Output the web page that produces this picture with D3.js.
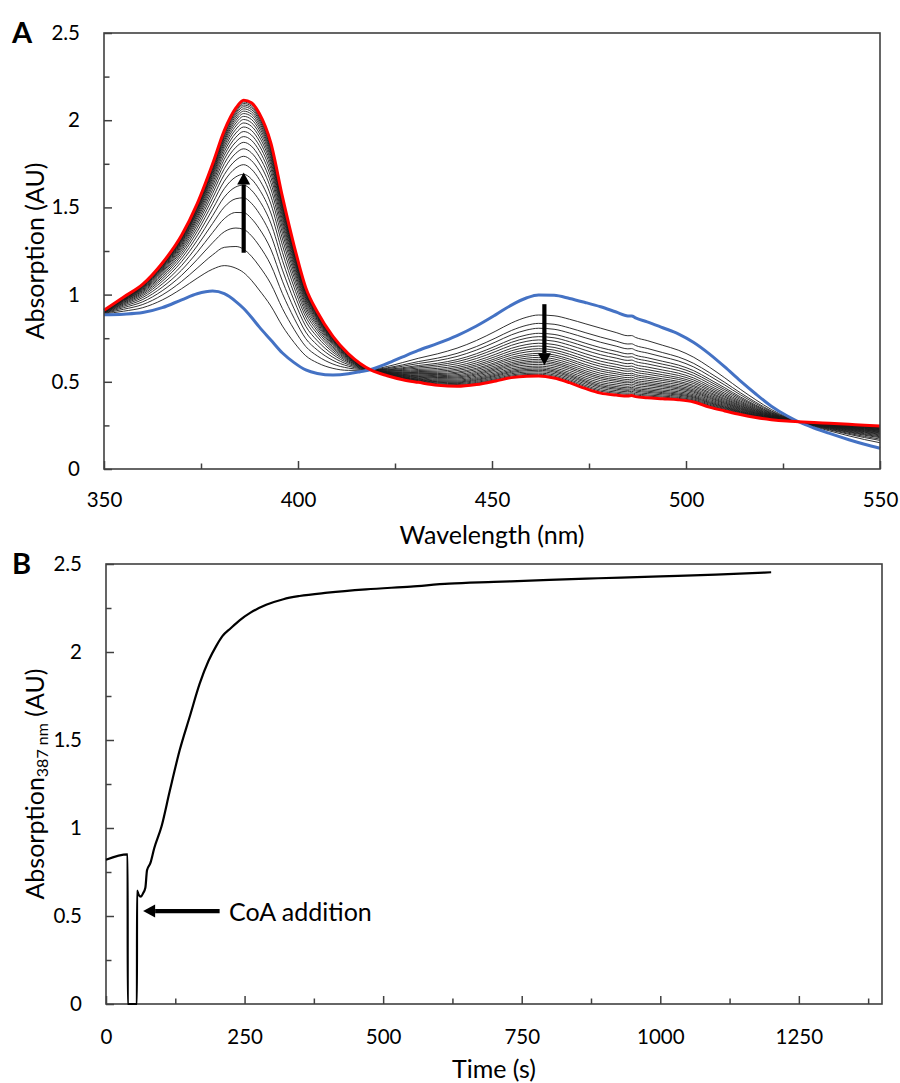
<!DOCTYPE html>
<html>
<head>
<meta charset="utf-8">
<script src="https://cdn.jsdelivr.net/npm/d3@7"></script>
<style>
body { margin: 0; background: #fff; }
text { font-family: Lato, "Open Sans", sans-serif; fill: #000; }
</style>
</head>
<body>
<svg id="chart" width="900" height="1083"></svg>
<script>
// ---- panel A: spectra ----
var wavelengths = [350,355,360,365,370,374,378,381,384,386,388,390,393,396,399,402,405,409,413,416,419,
  423,427,431,436,441,446,451,455,459,462,466,470,474,478,482,485,486,487,490,494,498,502,506,510,514,518,522,526,529,533,537,542,546,550];
// first spectrum (blue)
var startSpectrum = [0.885,0.888,0.897,0.925,0.97,1.005,1.02,1.005,0.96,0.92,0.87,0.815,0.74,0.665,0.61,0.568,0.548,0.539,0.546,0.558,0.572,
  0.605,0.643,0.68,0.72,0.765,0.82,0.885,0.94,0.982,0.998,0.996,0.978,0.955,0.93,0.9,0.878,0.878,0.866,0.844,0.81,0.775,0.725,0.66,0.585,0.505,0.43,0.36,0.305,0.271,0.235,0.204,0.168,0.142,0.119];
// last spectrum (red)
var endSpectrum = [0.91,0.985,1.06,1.18,1.34,1.52,1.75,1.94,2.07,2.115,2.1,2.04,1.87,1.56,1.28,1.04,0.9,0.76,0.66,0.605,0.565,
  0.535,0.512,0.497,0.48,0.474,0.484,0.505,0.524,0.532,0.533,0.522,0.495,0.462,0.435,0.424,0.418,0.421,0.415,0.409,0.403,0.397,0.384,0.355,0.333,0.312,0.295,0.283,0.275,0.271,0.266,0.262,0.256,0.251,0.247];
// intermediate traces: height at the 387 nm band and at the 462 nm band
var band387 = [1.126,1.26,1.374,1.47,1.555,1.628,1.69,1.745,1.793,1.836,1.873,1.906,1.935,1.961,1.984,2.004,2.022,2.038,2.052,2.065,2.077,2.087,2.096,2.104];
var band462 = [0.883,0.835,0.807,0.778,0.759,0.740,0.721,0.705,0.690,0.677,0.663,0.652,0.640,0.629,0.619,0.610,0.600,0.590,0.581,0.573,0.566,0.558,0.550,0.543];
var absTicks = [0,0.5,1,1.5,2,2.5];
var absMinor = [0.25,0.75,1.25,1.75,2.25];
var wlTicks = [350,400,450,500,550];
var wlMinor = [375,425,475,525];

// ---- panel B: kinetics at 387 nm ----
var timeSec = [0,39,39.2,55.8,56,59,63,67,71,74,80,87,100,115,133,151,169,185,199,210,225,241,260,289,320,349,400,469,550,619,700,800,888,1000,1100,1200];
var abs387 = [0.82,0.85,0,0,0.645,0.62,0.61,0.63,0.66,0.76,0.8,0.885,1.007,1.21,1.443,1.632,1.82,1.95,2.035,2.09,2.135,2.18,2.222,2.268,2.3,2.318,2.337,2.356,2.372,2.388,2.398,2.41,2.419,2.43,2.44,2.453];
var timeTicks = [0,250,500,750,1000,1250];
var timeMinor = [125,375,625,875,1125,1375];

var svg = d3.select("#chart");
var frameColor = "#404040";

function drawAxes(g, x, y, xt, xm, yt, ym, xpad) {
  var w = x.range()[1], h = y.range()[0];
  g.append("g").attr("transform", "translate(0," + h + ")")
    .call(d3.axisBottom(x).tickValues(xt).tickSize(-8).tickSizeOuter(0).tickPadding(xpad).tickFormat(d3.format("")))
    .call(s => s.select(".domain").remove());
  g.append("g").attr("transform", "translate(0," + h + ")")
    .call(d3.axisBottom(x).tickValues(xm).tickSize(-5.5).tickSizeOuter(0).tickFormat(""))
    .call(s => s.select(".domain").remove());
  g.append("g")
    .call(d3.axisLeft(y).tickValues(yt).tickSize(-8).tickSizeOuter(0).tickPadding(24).tickFormat(d3.format("")))
    .call(s => s.select(".domain").remove());
  g.append("g")
    .call(d3.axisLeft(y).tickValues(ym).tickSize(-5.5).tickSizeOuter(0).tickFormat(""))
    .call(s => s.select(".domain").remove());
  g.selectAll(".tick line").attr("stroke", frameColor).attr("stroke-width", 1.5);
  g.selectAll(".tick text").attr("font-size", 20.5).attr("font-family", "Lato, sans-serif");
  g.append("rect").attr("x", 0).attr("y", 0).attr("width", w).attr("height", h)
    .attr("fill", "none").attr("stroke", frameColor).attr("stroke-width", 1.6);
}

function arrow(g, x1, y1, x2, y2) {
  var ang = Math.atan2(y2 - y1, x2 - x1), hl = 12, hw = 6.5;
  var bx = x2 - hl * Math.cos(ang), by = y2 - hl * Math.sin(ang);
  g.append("line").attr("x1", x1).attr("y1", y1).attr("x2", bx).attr("y2", by)
    .attr("stroke", "#000").attr("stroke-width", 4.2);
  var px = -Math.sin(ang) * hw, py = Math.cos(ang) * hw;
  g.append("path").attr("d", "M" + x2 + "," + y2 + "L" + (bx + px) + "," + (by + py) + "L" + (bx - px) + "," + (by - py) + "Z")
    .attr("fill", "#000");
}

// ================= Panel A =================
var gA = svg.append("g").attr("transform", "translate(104,33)");
var xA = d3.scaleLinear().domain([350, 550]).range([0, 776]);
var yA = d3.scaleLinear().domain([0, 2.5]).range([436, 0]);

// each grey trace sits between the two end spectra; its position is set by
// the band heights read at 387 nm (left of the 419 nm isosbestic point) and 462 nm (right of it)
var i386 = wavelengths.indexOf(386), i462 = wavelengths.indexOf(462);
var traces = band387.map(function (v, k) {
  var fa = (v - startSpectrum[i386]) / (endSpectrum[i386] - startSpectrum[i386]);
  var fb = (startSpectrum[i462] - band462[k]) / (startSpectrum[i462] - endSpectrum[i462]);
  return wavelengths.map(function (w, j) {
    var f = w < 419 ? fa : fb;
    return [w, startSpectrum[j] + f * (endSpectrum[j] - startSpectrum[j])];
  });
});

var lineA = d3.line().x(d => xA(d[0])).y(d => yA(d[1])).curve(d3.curveMonotoneX);
var plotA = gA.append("g");
plotA.selectAll(".trace").data(traces).enter().append("path")
  .attr("d", lineA).attr("fill", "none").attr("stroke", "#1a1a1a").attr("stroke-width", 0.9);
plotA.append("path").datum(wavelengths.map((w, j) => [w, startSpectrum[j]]))
  .attr("d", lineA).attr("fill", "none").attr("stroke", "#4472C4").attr("stroke-width", 3);
plotA.append("path").datum(wavelengths.map((w, j) => [w, endSpectrum[j]]))
  .attr("d", lineA).attr("fill", "none").attr("stroke", "#FF0000").attr("stroke-width", 3);

drawAxes(gA, xA, yA, wlTicks, wlMinor, absTicks, absMinor, 23);

arrow(gA, xA(386), yA(1.24), xA(386), yA(1.70));
arrow(gA, xA(463.5), yA(0.945), xA(463.5), yA(0.595));

gA.append("text").attr("x", 388).attr("y", 511).attr("text-anchor", "middle")
  .attr("font-size", 25).text("Wavelength (nm)");
gA.append("text").attr("transform", "translate(-70,218) rotate(-90)").attr("text-anchor", "middle")
  .attr("dominant-baseline", "central").attr("font-size", 25).text("Absorption (AU)");
svg.append("text").attr("x", 12).attr("y", 43).attr("font-size", 29).attr("font-weight", "bold").text("A");

// ================= Panel B =================
var gB = svg.append("g").attr("transform", "translate(106,564)");
var xB = d3.scaleLinear().domain([0, 1400]).range([0, 776]);
var yB = d3.scaleLinear().domain([0, 2.5]).range([440, 0]);

drawAxes(gB, xB, yB, timeTicks, timeMinor, absTicks, absMinor, 25);

var lineB = d3.line().x((d, k) => xB(d)).y((d, k) => yB(abs387[k])).curve(d3.curveMonotoneX);
gB.append("path").datum(timeSec).attr("d", lineB)
  .attr("fill", "none").attr("stroke", "#000").attr("stroke-width", 2.2);

arrow(gB, xB(205), yB(0.528), xB(67), yB(0.528));
gB.append("text").attr("x", xB(222)).attr("y", yB(0.528)).attr("dominant-baseline", "central")
  .attr("font-size", 25).text("CoA addition");

gB.append("text").attr("x", 388).attr("y", 514).attr("text-anchor", "middle")
  .attr("font-size", 25).text("Time (s)");
var yt = gB.append("text").attr("transform", "translate(-72,220) rotate(-90)").attr("text-anchor", "middle")
  .attr("dominant-baseline", "central").attr("font-size", 25);
yt.append("tspan").text("Absorption");
yt.append("tspan").attr("font-size", 16).attr("dy", 7).text("387 nm");
yt.append("tspan").attr("dy", -7).text(" (AU)");
svg.append("text").attr("x", 12).attr("y", 574).attr("font-size", 29).attr("font-weight", "bold").text("B");
</script>
</body>
</html>
